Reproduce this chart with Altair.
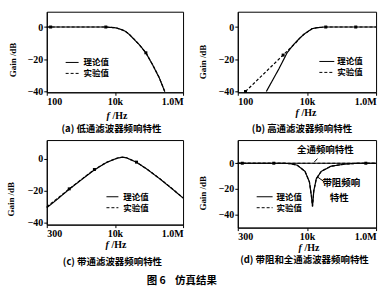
import altair as alt
import pandas as pd

# ---------------- data ----------------
# (a) low-pass
a_f = [100, 1000, 5400, 10700, 15000, 20000, 26000, 36000, 52000, 81000, 128000, 200000, 290000]
a_theory = [0, 0, 0, -0.5, -1.5, -2.6, -4.5, -7.5, -11, -16, -23.5, -31.5, -40]
a_exp = [0, 0, 0, -0.4, -1.4, -2.5, -4.4, -7.4, -11, -16, -23.4, -31.4, -40]
a_mark_f = [130, 5400, 81000]
a_mark_db = [0, 0, -16]

# (b) high-pass
b_f = [670, 1540, 2700, 4200, 6000, 8200, 14200, 20000, 31000, 1000000]
b_theory = [-40, -26, -15.8, -10.7, -7.2, -4.5, -1, -0.4, 0, 0]
b_exp_f = [167, 2050, 4700, 6000, 8200, 14200, 20000, 35000, 1000000]
b_exp = [-40, -17.4, -9.9, -7.2, -4.5, -1, -0.4, 0, 0]
b_mark_f = [167, 2050, 35000, 258000]
b_mark_db = [-40, -17.4, 0, 0]

# (c) band-pass
c_f = [100, 185, 457, 1140, 2500, 5600, 10000, 12500, 17000, 21800, 43000, 86000, 214000, 525000, 1000000]
c_theory = [-30.5, -26, -19, -12.5, -7, -2.5, -0.3, 0.4, 0.8, 0.5, -2.3, -6.5, -12.8, -19.5, -24.5]
c_exp = [-30, -25.5, -18.8, -12.3, -6.8, -2.4, -0.2, 0.5, 0.9, 0.5, -2.2, -6.4, -12.6, -19.4, -24.4]
c_mark_f = [457, 2500, 43000]
c_mark_db = [-18.8, -6.8, -2.2]

# (d) band-stop and all-pass
d_f = [100, 1700, 3270, 5200, 8800, 11800, 13400, 14500, 15800, 18700, 26000, 50000, 122000, 327000, 1000000]
d_notch = [0, 0, -0.3, -1.5, -6.3, -14.5, -25, -33.5, -21.5, -12, -6.3, -2.3, -0.7, 0, 0]
d_allpass_f = [100, 1000000]
d_allpass = [0, 0]
d_mark_f = [135, 1100, 505000]
d_mark_db = [0, 0, 0]

SERIES = ["理论值", "实验值"]
CJK = "Noto Sans CJK SC"
SERIF = "Liberation Serif"


def lines_df(parts):
    rows = []
    for grp, series, fs, dbs in parts:
        for f, v in zip(fs, dbs):
            rows.append({"f": f, "db": v, "series": series, "grp": grp})
    return pd.DataFrame(rows)


one = pd.DataFrame({"k": [0]})


def txt(text, x, y, size=9.5, font=CJK, weight="bold", align="center", style="normal"):
    return alt.Chart(one).mark_text(
        text=text, font=font, fontSize=size, fontWeight=weight, align=align,
        baseline="middle", color="black", fontStyle=style
    ).encode(x=alt.value(x), y=alt.value(y))


def seg(x1, x2, y1, y2, dash=None):
    kw = {"color": "black", "strokeWidth": 1}
    if dash:
        kw["strokeDash"] = dash
    return alt.Chart(one).mark_rule(**kw).encode(
        x=alt.value(x1), x2=alt.value(x2), y=alt.value(y1), y2=alt.value(y2))


def panel(ldf, mf, mdb, w, h, ydom, left_lbl, title_xy, legend, fhz, caption, extras=()):
    lbl = ("datum.value <= 100 ? '%s' : (datum.value == 10000 ? '10k' : '1.0M')" % left_lbl)
    X = alt.X("f:Q", scale=alt.Scale(type="log", domain=[100, 1000000], nice=False),
              axis=alt.Axis(values=[100, 10000, 1000000], labelExpr=lbl, title=None,
                            grid=False, tickSize=3, labelPadding=1, labelFont=SERIF,
                            labelFontSize=10, labelFontWeight="bold", labelColor="black",
                            domainColor="black", tickColor="black"))
    Y = alt.Y("db:Q", scale=alt.Scale(domain=ydom, nice=False, zero=False),
              axis=alt.Axis(values=[-40, -20, 0], title="Gain /dB", grid=False, tickSize=3,
                            labelPadding=1, labelFont=SERIF, labelFontSize=10,
                            labelFontWeight="bold", labelColor="black",
                            titleFont=SERIF, titleFontSize=9, titleFontWeight="bold",
                            titleColor="black", titleX=title_xy[0], titleY=title_xy[1],
                            titleAngle=-90, titleAlign="center", titleBaseline="middle",
                            domainColor="black", tickColor="black"))
    dash = alt.StrokeDash("series:N", scale=alt.Scale(domain=SERIES, range=[[1, 0], [3, 2]]),
                          legend=None)
    line = alt.Chart(ldf).mark_line(color="black", strokeWidth=1.2).encode(
        x=X, y=Y, strokeDash=dash, detail="grp:N")
    mdf = pd.DataFrame({"f": mf, "db": mdb})
    pts = alt.Chart(mdf).mark_point(filled=True, color="black", size=9, shape="square",
                                    opacity=1).encode(x="f:Q", y="db:Q")
    lx1, lx2, tx, ly1, ly2 = legend
    layers = [line, pts,
              seg(lx1, lx2, ly1, ly1), seg(lx1, lx2, ly2, ly2, [3, 2]),
              txt(SERIES[0], tx, ly1, size=8.5, align="left"),
              txt(SERIES[1], tx, ly2, size=8.5, align="left"),
              txt("f", fhz[0] - 9, fhz[1], size=10, font=SERIF, weight="bold",
                  align="left", style="italic"),
              txt("/Hz", fhz[0] - 3, fhz[1], size=10, font=SERIF, weight="bold", align="left"),
              txt(caption[0], caption[1], caption[2], size=9.5)]
    layers += list(extras)
    return alt.layer(*layers).properties(width=w, height=h)


anchor = alt.Chart(one).mark_rect(opacity=0).encode(
    x=alt.value(-46), x2=alt.value(345), y=alt.value(-10), y2=alt.value(289))

pa = panel(lines_df([("t", SERIES[0], a_f, a_theory), ("e", SERIES[1], a_f, a_exp)]),
           a_mark_f, a_mark_db, 137, 81, [-40.5, 9.5], "100", (-34, 48),
           (19, 32, 37, 51, 62), (69, 105), ("(a) 低通滤波器频响特性", 65, 117.5),
           extras=[anchor])

pb = panel(lines_df([("t", SERIES[0], b_f, b_theory), ("e", SERIES[1], b_exp_f, b_exp)]),
           b_mark_f, b_mark_db, 139, 81, [-40.5, 9.5], "100", (-35, 50),
           (82, 97, 100, 50, 61), (67, 102), ("(b) 高通滤波器频响特性", 64.5, 117.5))

pc = panel(lines_df([("t", SERIES[0], c_f, c_theory), ("e", SERIES[1], c_f, c_exp)]),
           c_mark_f, c_mark_db, 137, 85, [-41, 11.5], "300", (-36, 59),
           (60, 72, 77, 57, 68), (68, 105), ("(c) 带通滤波器频响特性", 66, 122.5),
           extras=[txt("图 6", 110, 142, size=10.5), txt("仿真结果", 150, 142, size=10.5)])

pd_ = panel(lines_df([("t", SERIES[0], d_f, d_notch), ("e", SERIES[1], d_f, d_notch),
                      ("ta", SERIES[0], d_allpass_f, d_allpass),
                      ("ea", SERIES[1], d_allpass_f, d_allpass)]),
            d_mark_f, d_mark_db, 139, 88, [-50, 18], "300", (-35, 53),
            (19, 35, 39, 57, 68), (70, 108.5), ("(d) 带阻和全通滤波器频响特性", 67, 120.5),
            extras=[txt("全通频响特性", 88, 10), seg(77, 80, 22, 18.7),
                    txt("带阻频响", 104, 43), txt("特性", 102, 58), seg(80, 87, 37, 42)])

chart = alt.concat(pa, pb, pc, pd_, columns=2, spacing={"row": 48, "column": 55},
                   bounds="flush", align="none").properties(
    padding=0, background="white"
).configure_view(stroke="black", strokeWidth=1)

chart.save("out.html", embed_options={"renderer": "svg", "actions": False})
